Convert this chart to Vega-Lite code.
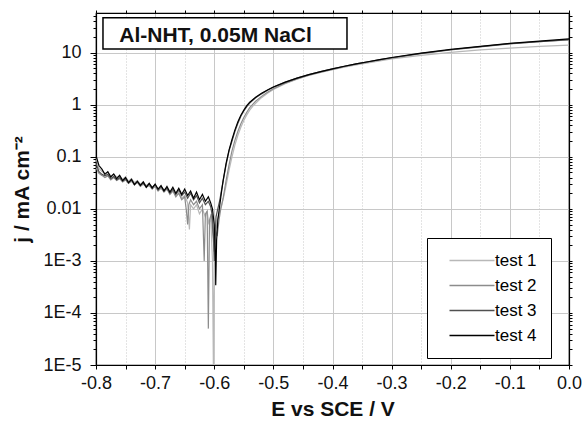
{
  "$schema": "https://vega.github.io/schema/vega-lite/v6.json",
  "width": 473,
  "height": 352,
  "autosize": {"type": "none"},
  "padding": {"left": 96, "top": 13, "right": 14, "bottom": 57},
  "background": "white",
  "datasets": {
    "curves": [
      {"s":"test 1","E":-0.800,"j":0.095},{"s":"test 1","E":-0.795,"j":0.060},{"s":"test 1","E":-0.790,"j":0.052},{"s":"test 1","E":-0.785,"j":0.048},{"s":"test 1","E":-0.780,"j":0.050},{"s":"test 1","E":-0.775,"j":0.043},{"s":"test 1","E":-0.770,"j":0.046},{"s":"test 1","E":-0.765,"j":0.041},{"s":"test 1","E":-0.760,"j":0.043},{"s":"test 1","E":-0.755,"j":0.037},{"s":"test 1","E":-0.750,"j":0.041},{"s":"test 1","E":-0.745,"j":0.034},{"s":"test 1","E":-0.740,"j":0.038},{"s":"test 1","E":-0.735,"j":0.032},{"s":"test 1","E":-0.730,"j":0.035},{"s":"test 1","E":-0.725,"j":0.030},{"s":"test 1","E":-0.720,"j":0.033},{"s":"test 1","E":-0.715,"j":0.028},{"s":"test 1","E":-0.710,"j":0.031},{"s":"test 1","E":-0.705,"j":0.026},{"s":"test 1","E":-0.700,"j":0.029},{"s":"test 1","E":-0.695,"j":0.024},{"s":"test 1","E":-0.690,"j":0.027},{"s":"test 1","E":-0.685,"j":0.022},{"s":"test 1","E":-0.680,"j":0.025},{"s":"test 1","E":-0.675,"j":0.020},{"s":"test 1","E":-0.670,"j":0.023},{"s":"test 1","E":-0.665,"j":0.018},{"s":"test 1","E":-0.660,"j":0.020},{"s":"test 1","E":-0.655,"j":0.016},{"s":"test 1","E":-0.650,"j":0.018},{"s":"test 1","E":-0.645,"j":0.013},{"s":"test 1","E":-0.642,"j":0.004},{"s":"test 1","E":-0.640,"j":0.012},{"s":"test 1","E":-0.635,"j":0.010},{"s":"test 1","E":-0.630,"j":0.012},{"s":"test 1","E":-0.625,"j":0.008},{"s":"test 1","E":-0.620,"j":0.010},{"s":"test 1","E":-0.615,"j":0.007},{"s":"test 1","E":-0.612,"j":0.009},{"s":"test 1","E":-0.609,"j":0.005},{"s":"test 1","E":-0.606,"j":0.007},{"s":"test 1","E":-0.603,"j":0.001},{"s":"test 1","E":-0.6015,"j":0.00001},{"s":"test 1","E":-0.600,"j":0.0008},{"s":"test 1","E":-0.598,"j":0.003},{"s":"test 1","E":-0.595,"j":0.006},{"s":"test 1","E":-0.592,"j":0.008},{"s":"test 1","E":-0.588,"j":0.011},{"s":"test 1","E":-0.584,"j":0.017},{"s":"test 1","E":-0.580,"j":0.028},{"s":"test 1","E":-0.575,"j":0.055},{"s":"test 1","E":-0.570,"j":0.10},{"s":"test 1","E":-0.565,"j":0.17},{"s":"test 1","E":-0.560,"j":0.26},{"s":"test 1","E":-0.555,"j":0.37},{"s":"test 1","E":-0.550,"j":0.50},{"s":"test 1","E":-0.545,"j":0.64},{"s":"test 1","E":-0.540,"j":0.79},{"s":"test 1","E":-0.535,"j":0.93},{"s":"test 1","E":-0.530,"j":1.07},{"s":"test 1","E":-0.520,"j":1.37},{"s":"test 1","E":-0.510,"j":1.67},{"s":"test 1","E":-0.500,"j":1.97},{"s":"test 1","E":-0.480,"j":2.55},{"s":"test 1","E":-0.460,"j":3.1},{"s":"test 1","E":-0.440,"j":3.65},{"s":"test 1","E":-0.420,"j":4.2},{"s":"test 1","E":-0.400,"j":4.75},{"s":"test 1","E":-0.380,"j":5.3},{"s":"test 1","E":-0.360,"j":5.85},{"s":"test 1","E":-0.340,"j":6.4},{"s":"test 1","E":-0.320,"j":7.0},{"s":"test 1","E":-0.300,"j":7.6},{"s":"test 1","E":-0.250,"j":8.9},{"s":"test 1","E":-0.200,"j":10.2},{"s":"test 1","E":-0.150,"j":11.3},{"s":"test 1","E":-0.100,"j":12.3},{"s":"test 1","E":-0.050,"j":13.2},{"s":"test 1","E":0.000,"j":14.0},

      {"s":"test 2","E":-0.800,"j":0.062},{"s":"test 2","E":-0.795,"j":0.048},{"s":"test 2","E":-0.790,"j":0.044},{"s":"test 2","E":-0.785,"j":0.040},{"s":"test 2","E":-0.780,"j":0.043},{"s":"test 2","E":-0.775,"j":0.036},{"s":"test 2","E":-0.770,"j":0.040},{"s":"test 2","E":-0.765,"j":0.035},{"s":"test 2","E":-0.760,"j":0.038},{"s":"test 2","E":-0.755,"j":0.033},{"s":"test 2","E":-0.750,"j":0.036},{"s":"test 2","E":-0.745,"j":0.031},{"s":"test 2","E":-0.740,"j":0.034},{"s":"test 2","E":-0.735,"j":0.029},{"s":"test 2","E":-0.730,"j":0.032},{"s":"test 2","E":-0.725,"j":0.027},{"s":"test 2","E":-0.720,"j":0.030},{"s":"test 2","E":-0.715,"j":0.026},{"s":"test 2","E":-0.710,"j":0.028},{"s":"test 2","E":-0.705,"j":0.024},{"s":"test 2","E":-0.700,"j":0.027},{"s":"test 2","E":-0.695,"j":0.022},{"s":"test 2","E":-0.690,"j":0.025},{"s":"test 2","E":-0.685,"j":0.021},{"s":"test 2","E":-0.680,"j":0.024},{"s":"test 2","E":-0.675,"j":0.019},{"s":"test 2","E":-0.670,"j":0.022},{"s":"test 2","E":-0.665,"j":0.017},{"s":"test 2","E":-0.660,"j":0.020},{"s":"test 2","E":-0.655,"j":0.015},{"s":"test 2","E":-0.650,"j":0.017},{"s":"test 2","E":-0.647,"j":0.009},{"s":"test 2","E":-0.645,"j":0.005},{"s":"test 2","E":-0.643,"j":0.012},{"s":"test 2","E":-0.640,"j":0.015},{"s":"test 2","E":-0.635,"j":0.012},{"s":"test 2","E":-0.630,"j":0.014},{"s":"test 2","E":-0.625,"j":0.010},{"s":"test 2","E":-0.620,"j":0.012},{"s":"test 2","E":-0.617,"j":0.001},{"s":"test 2","E":-0.615,"j":0.008},{"s":"test 2","E":-0.612,"j":0.009},{"s":"test 2","E":-0.610,"j":0.00005},{"s":"test 2","E":-0.608,"j":0.006},{"s":"test 2","E":-0.605,"j":0.008},{"s":"test 2","E":-0.602,"j":0.003},{"s":"test 2","E":-0.600,"j":0.0015},{"s":"test 2","E":-0.598,"j":0.004},{"s":"test 2","E":-0.595,"j":0.003},{"s":"test 2","E":-0.592,"j":0.006},{"s":"test 2","E":-0.589,"j":0.010},{"s":"test 2","E":-0.585,"j":0.016},{"s":"test 2","E":-0.580,"j":0.035},{"s":"test 2","E":-0.575,"j":0.07},{"s":"test 2","E":-0.570,"j":0.13},{"s":"test 2","E":-0.565,"j":0.21},{"s":"test 2","E":-0.560,"j":0.31},{"s":"test 2","E":-0.555,"j":0.43},{"s":"test 2","E":-0.550,"j":0.57},{"s":"test 2","E":-0.545,"j":0.72},{"s":"test 2","E":-0.540,"j":0.88},{"s":"test 2","E":-0.535,"j":1.02},{"s":"test 2","E":-0.530,"j":1.17},{"s":"test 2","E":-0.520,"j":1.45},{"s":"test 2","E":-0.510,"j":1.74},{"s":"test 2","E":-0.500,"j":2.03},{"s":"test 2","E":-0.480,"j":2.6},{"s":"test 2","E":-0.460,"j":3.15},{"s":"test 2","E":-0.440,"j":3.7},{"s":"test 2","E":-0.420,"j":4.25},{"s":"test 2","E":-0.400,"j":4.8},{"s":"test 2","E":-0.380,"j":5.4},{"s":"test 2","E":-0.360,"j":6.0},{"s":"test 2","E":-0.340,"j":6.6},{"s":"test 2","E":-0.320,"j":7.25},{"s":"test 2","E":-0.300,"j":7.9},{"s":"test 2","E":-0.250,"j":9.6},{"s":"test 2","E":-0.200,"j":11.3},{"s":"test 2","E":-0.150,"j":13.0},{"s":"test 2","E":-0.100,"j":14.8},{"s":"test 2","E":-0.050,"j":16.3},{"s":"test 2","E":0.000,"j":17.7},

      {"s":"test 3","E":-0.800,"j":0.075},{"s":"test 3","E":-0.795,"j":0.052},{"s":"test 3","E":-0.790,"j":0.046},{"s":"test 3","E":-0.785,"j":0.043},{"s":"test 3","E":-0.780,"j":0.046},{"s":"test 3","E":-0.775,"j":0.038},{"s":"test 3","E":-0.770,"j":0.042},{"s":"test 3","E":-0.765,"j":0.036},{"s":"test 3","E":-0.760,"j":0.040},{"s":"test 3","E":-0.755,"j":0.034},{"s":"test 3","E":-0.750,"j":0.038},{"s":"test 3","E":-0.745,"j":0.031},{"s":"test 3","E":-0.740,"j":0.036},{"s":"test 3","E":-0.735,"j":0.030},{"s":"test 3","E":-0.730,"j":0.033},{"s":"test 3","E":-0.725,"j":0.029},{"s":"test 3","E":-0.720,"j":0.031},{"s":"test 3","E":-0.715,"j":0.027},{"s":"test 3","E":-0.710,"j":0.030},{"s":"test 3","E":-0.705,"j":0.026},{"s":"test 3","E":-0.700,"j":0.029},{"s":"test 3","E":-0.695,"j":0.023},{"s":"test 3","E":-0.690,"j":0.027},{"s":"test 3","E":-0.685,"j":0.023},{"s":"test 3","E":-0.680,"j":0.025},{"s":"test 3","E":-0.675,"j":0.020},{"s":"test 3","E":-0.670,"j":0.024},{"s":"test 3","E":-0.665,"j":0.019},{"s":"test 3","E":-0.660,"j":0.023},{"s":"test 3","E":-0.655,"j":0.018},{"s":"test 3","E":-0.650,"j":0.021},{"s":"test 3","E":-0.645,"j":0.016},{"s":"test 3","E":-0.640,"j":0.020},{"s":"test 3","E":-0.635,"j":0.015},{"s":"test 3","E":-0.630,"j":0.018},{"s":"test 3","E":-0.625,"j":0.013},{"s":"test 3","E":-0.620,"j":0.016},{"s":"test 3","E":-0.615,"j":0.012},{"s":"test 3","E":-0.610,"j":0.014},{"s":"test 3","E":-0.606,"j":0.011},{"s":"test 3","E":-0.603,"j":0.007},{"s":"test 3","E":-0.601,"j":0.0025},{"s":"test 3","E":-0.600,"j":0.001},{"s":"test 3","E":-0.5985,"j":0.003},{"s":"test 3","E":-0.597,"j":0.007},{"s":"test 3","E":-0.594,"j":0.010},{"s":"test 3","E":-0.591,"j":0.014},{"s":"test 3","E":-0.588,"j":0.022},{"s":"test 3","E":-0.585,"j":0.034},{"s":"test 3","E":-0.580,"j":0.07},{"s":"test 3","E":-0.575,"j":0.13},{"s":"test 3","E":-0.570,"j":0.20},{"s":"test 3","E":-0.565,"j":0.31},{"s":"test 3","E":-0.560,"j":0.44},{"s":"test 3","E":-0.555,"j":0.60},{"s":"test 3","E":-0.550,"j":0.76},{"s":"test 3","E":-0.545,"j":0.92},{"s":"test 3","E":-0.540,"j":1.08},{"s":"test 3","E":-0.530,"j":1.36},{"s":"test 3","E":-0.520,"j":1.62},{"s":"test 3","E":-0.510,"j":1.9},{"s":"test 3","E":-0.500,"j":2.18},{"s":"test 3","E":-0.480,"j":2.7},{"s":"test 3","E":-0.460,"j":3.25},{"s":"test 3","E":-0.440,"j":3.8},{"s":"test 3","E":-0.420,"j":4.35},{"s":"test 3","E":-0.400,"j":4.9},{"s":"test 3","E":-0.380,"j":5.5},{"s":"test 3","E":-0.360,"j":6.1},{"s":"test 3","E":-0.340,"j":6.7},{"s":"test 3","E":-0.320,"j":7.35},{"s":"test 3","E":-0.300,"j":8.0},{"s":"test 3","E":-0.250,"j":9.7},{"s":"test 3","E":-0.200,"j":11.4},{"s":"test 3","E":-0.150,"j":13.1},{"s":"test 3","E":-0.100,"j":14.9},{"s":"test 3","E":-0.050,"j":16.4},{"s":"test 3","E":0.000,"j":17.9},

      {"s":"test 4","E":-0.800,"j":0.105},{"s":"test 4","E":-0.795,"j":0.068},{"s":"test 4","E":-0.790,"j":0.058},{"s":"test 4","E":-0.785,"j":0.046},{"s":"test 4","E":-0.780,"j":0.052},{"s":"test 4","E":-0.775,"j":0.041},{"s":"test 4","E":-0.770,"j":0.047},{"s":"test 4","E":-0.765,"j":0.038},{"s":"test 4","E":-0.760,"j":0.044},{"s":"test 4","E":-0.755,"j":0.035},{"s":"test 4","E":-0.750,"j":0.040},{"s":"test 4","E":-0.745,"j":0.032},{"s":"test 4","E":-0.740,"j":0.037},{"s":"test 4","E":-0.735,"j":0.029},{"s":"test 4","E":-0.730,"j":0.034},{"s":"test 4","E":-0.725,"j":0.028},{"s":"test 4","E":-0.720,"j":0.033},{"s":"test 4","E":-0.715,"j":0.026},{"s":"test 4","E":-0.710,"j":0.031},{"s":"test 4","E":-0.705,"j":0.025},{"s":"test 4","E":-0.700,"j":0.030},{"s":"test 4","E":-0.695,"j":0.024},{"s":"test 4","E":-0.690,"j":0.028},{"s":"test 4","E":-0.685,"j":0.022},{"s":"test 4","E":-0.680,"j":0.027},{"s":"test 4","E":-0.675,"j":0.021},{"s":"test 4","E":-0.670,"j":0.026},{"s":"test 4","E":-0.665,"j":0.020},{"s":"test 4","E":-0.660,"j":0.025},{"s":"test 4","E":-0.655,"j":0.019},{"s":"test 4","E":-0.650,"j":0.024},{"s":"test 4","E":-0.645,"j":0.018},{"s":"test 4","E":-0.640,"j":0.022},{"s":"test 4","E":-0.635,"j":0.016},{"s":"test 4","E":-0.630,"j":0.021},{"s":"test 4","E":-0.625,"j":0.015},{"s":"test 4","E":-0.620,"j":0.019},{"s":"test 4","E":-0.615,"j":0.014},{"s":"test 4","E":-0.610,"j":0.017},{"s":"test 4","E":-0.606,"j":0.013},{"s":"test 4","E":-0.603,"j":0.010},{"s":"test 4","E":-0.600,"j":0.005},{"s":"test 4","E":-0.598,"j":0.0012},{"s":"test 4","E":-0.5975,"j":0.00034},{"s":"test 4","E":-0.596,"j":0.0025},{"s":"test 4","E":-0.594,"j":0.006},{"s":"test 4","E":-0.591,"j":0.011},{"s":"test 4","E":-0.588,"j":0.020},{"s":"test 4","E":-0.585,"j":0.035},{"s":"test 4","E":-0.580,"j":0.075},{"s":"test 4","E":-0.575,"j":0.135},{"s":"test 4","E":-0.570,"j":0.215},{"s":"test 4","E":-0.565,"j":0.33},{"s":"test 4","E":-0.560,"j":0.47},{"s":"test 4","E":-0.555,"j":0.63},{"s":"test 4","E":-0.550,"j":0.79},{"s":"test 4","E":-0.545,"j":0.96},{"s":"test 4","E":-0.540,"j":1.12},{"s":"test 4","E":-0.530,"j":1.4},{"s":"test 4","E":-0.520,"j":1.66},{"s":"test 4","E":-0.510,"j":1.93},{"s":"test 4","E":-0.500,"j":2.2},{"s":"test 4","E":-0.480,"j":2.72},{"s":"test 4","E":-0.460,"j":3.26},{"s":"test 4","E":-0.440,"j":3.8},{"s":"test 4","E":-0.420,"j":4.35},{"s":"test 4","E":-0.400,"j":4.9},{"s":"test 4","E":-0.380,"j":5.5},{"s":"test 4","E":-0.360,"j":6.1},{"s":"test 4","E":-0.340,"j":6.7},{"s":"test 4","E":-0.320,"j":7.4},{"s":"test 4","E":-0.300,"j":8.1},{"s":"test 4","E":-0.250,"j":9.8},{"s":"test 4","E":-0.200,"j":11.6},{"s":"test 4","E":-0.150,"j":13.3},{"s":"test 4","E":-0.100,"j":15.1},{"s":"test 4","E":-0.050,"j":16.7},{"s":"test 4","E":0.000,"j":18.4}
    ],
    "note": [{"label": "Al-NHT, 0.05M NaCl"}]
  },
  "layer": [
    {
      "data": {"name": "curves"},
      "mark": {"type": "line", "strokeWidth": 1.2, "clip": true},
      "encoding": {
        "x": {
          "field": "E", "type": "quantitative",
          "scale": {"domain": [-0.8, 0], "nice": false, "zero": false},
          "axis": {
            "orient": "bottom",
            "values": [-0.8,-0.75,-0.7,-0.65,-0.6,-0.55,-0.5,-0.45,-0.4,-0.35,-0.3,-0.25,-0.2,-0.15,-0.1,-0.05,0],
            "labelExpr": "abs(round(datum.value*20)) % 2 == 0 ? replace(format(datum.value, '.1f'), '\u2212', '-') : ''",
            "labelFlush": false,
            "labelOverlap": false,
            "grid": true,
            "gridColor": "#c8c8c8",
            "gridDash": {"condition": {"test": "abs(round(datum.value*20)) % 2 == 1", "value": [1, 2]}, "value": []},
            "tickSize": 4,
            "labelFontSize": 18,
            "labelPadding": 5,
            "title": "E vs SCE / V",
            "titleFontSize": 21,
            "titleFontWeight": "bold",
            "titlePadding": 6
          }
        },
        "y": {
          "field": "j", "type": "quantitative",
          "scale": {"type": "log", "domain": [0.00001, 58], "nice": false},
          "axis": {
            "orient": "left",
            "values": [0.00001,0.00002,0.00003,0.00004,0.00005,0.00006,0.00007,0.00008,0.00009,0.0001,0.0002,0.0003,0.0004,0.0005,0.0006,0.0007,0.0008,0.0009,0.001,0.002,0.003,0.004,0.005,0.006,0.007,0.008,0.009,0.01,0.02,0.03,0.04,0.05,0.06,0.07,0.08,0.09,0.1,0.2,0.3,0.4,0.5,0.6,0.7,0.8,0.9,1,2,3,4,5,6,7,8,9,10,20,30,40,50],
            "labelExpr": "abs(log(datum.value)/LN10 - round(log(datum.value)/LN10)) > 0.001 ? '' : (datum.value >= 0.01 ? toString(datum.value) : '1E' + round(log(datum.value) / LN10))",
            "labelFlush": false,
            "labelOverlap": false,
            "grid": true,
            "gridColor": "#c8c8c8",
            "gridOpacity": {"condition": {"test": "abs(log(datum.value)/LN10 - round(log(datum.value)/LN10)) > 0.001", "value": 0}, "value": 1},
            "tickSize": {"condition": {"test": "abs(log(datum.value)/LN10 - round(log(datum.value)/LN10)) > 0.001", "value": 3}, "value": 6},
            "labelFontSize": 18,
            "labelPadding": 9,
            "title": "j / mA cm\u207B\u00B2",
            "titleFontSize": 21,
            "titleFontWeight": "bold",
            "titlePadding": 10
          }
        },
        "color": {
          "field": "s", "type": "nominal",
          "scale": {"domain": ["test 1","test 2","test 3","test 4"], "range": ["#b8b8b8","#8c8c8c","#505050","#000000"]},
          "legend": {
            "title": null,
            "orient": "none",
            "legendX": 331,
            "legendY": 225,
            "strokeColor": "#000000",
            "fillColor": "#ffffff",
            "padding": 14,
            "symbolType": "M0,0H9",
            "symbolSize": 100,
            "symbolStrokeWidth": 1.3,
            "labelOffset": 37,
            "labelFontSize": 17,
            "labelColor": "#000000",
            "rowPadding": 7,
            "labelExpr": "datum.label + '    '"
          }
        }
      }
    },
    {
      "data": {"name": "note"},
      "mark": {"type": "rect", "fill": "#ffffff", "stroke": "#000000", "strokeWidth": 1.5},
      "encoding": {
        "x": {"datum": -0.7882, "type": "quantitative",
          "axis": {"orient": "top", "values": [-0.8,-0.75,-0.7,-0.65,-0.6,-0.55,-0.5,-0.45,-0.4,-0.35,-0.3,-0.25,-0.2,-0.15,-0.1,-0.05,0], "labels": false, "grid": false, "tickSize": 3, "title": null}},
        "x2": {"datum": -0.3755},
        "y": {"datum": 47.1, "type": "quantitative",
          "axis": {"orient": "right", "values": [0.00001,0.00002,0.00003,0.00004,0.00005,0.00006,0.00007,0.00008,0.00009,0.0001,0.0002,0.0003,0.0004,0.0005,0.0006,0.0007,0.0008,0.0009,0.001,0.002,0.003,0.004,0.005,0.006,0.007,0.008,0.009,0.01,0.02,0.03,0.04,0.05,0.06,0.07,0.08,0.09,0.1,0.2,0.3,0.4,0.5,0.6,0.7,0.8,0.9,1,2,3,4,5,6,7,8,9,10,20,30,40,50], "labels": false, "grid": false, "tickSize": 3, "title": null}},
        "y2": {"datum": 11.8}
      }
    },
    {
      "data": {"name": "note"},
      "mark": {"type": "text", "align": "left", "baseline": "alphabetic", "fontSize": 21, "fontWeight": "bold", "color": "#111111"},
      "encoding": {
        "text": {"field": "label"},
        "x": {"datum": -0.7606, "type": "quantitative", "axis": null},
        "y": {"datum": 16.3, "type": "quantitative", "axis": null}
      }
    }
  ],
  "resolve": {"scale": {"x": "shared", "y": "shared"}, "axis": {"x": "independent", "y": "independent"}},
  "config": {
    "font": "Liberation Sans",
    "view": {"stroke": "#000000", "strokeWidth": 1.2},
    "axis": {
      "domainColor": "#000000",
      "domainWidth": 1.2,
      "tickColor": "#000000",
      "labelColor": "#111111",
      "titleColor": "#111111",
      "labelFont": "Liberation Sans",
      "titleFont": "Liberation Sans"
    },
    "legend": {"labelFont": "Liberation Sans"}
  }
}
